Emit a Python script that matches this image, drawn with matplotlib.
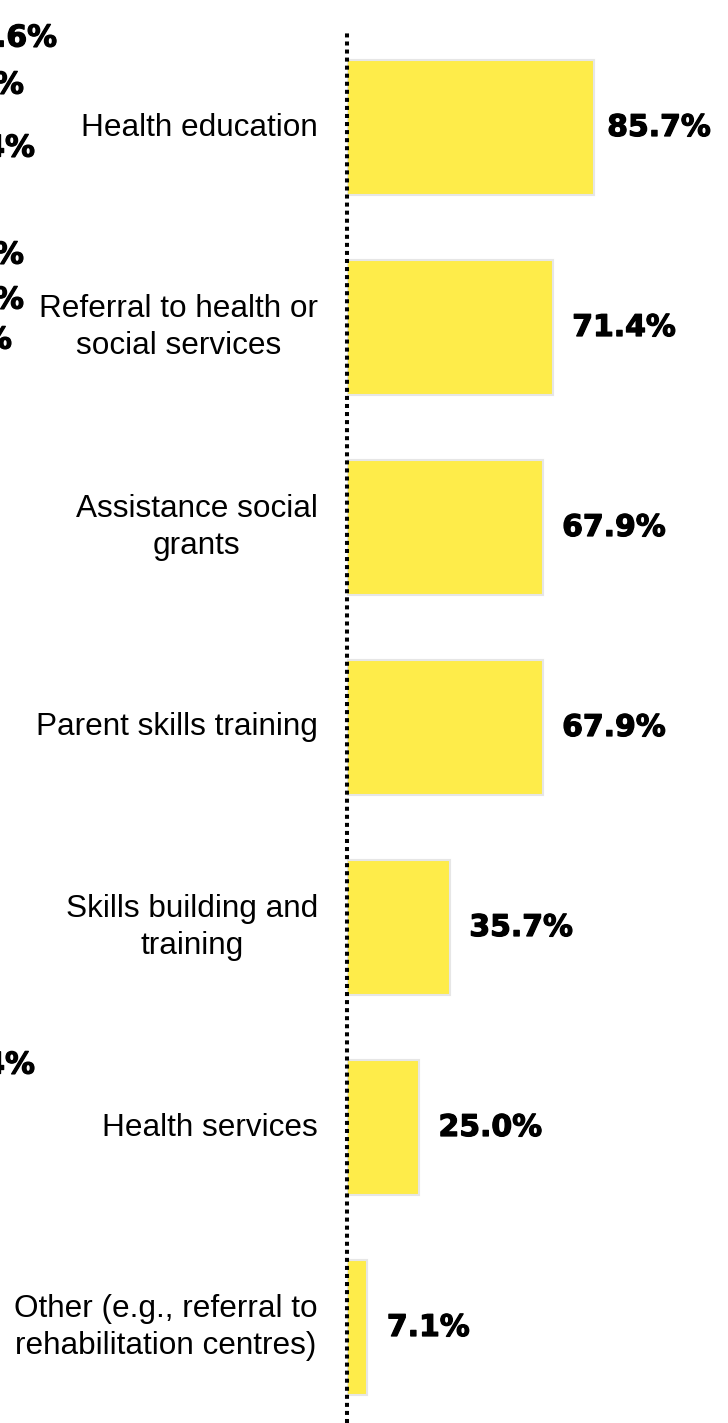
import matplotlib.pyplot as plt
import matplotlib.patheffects as pe
import numpy as np

# services offered (share of respondents, %)
services = ['Health education', 'Referral to health or\nsocial services', 'Assistance social\ngrants',
            'Parent skills training', 'Skills building and\ntraining', 'Health services',
            'Other (e.g., referral to\nrehabilitation centres)']
shares = [85.7, 71.4, 67.9, 67.9, 35.7, 25.0, 7.1]

# cut-off value labels of the neighbouring panel on the left
cut_labels = ['.6%', '%', '4%', '%', '%', '%', '4%']

W, H = 728, 1423
fig = plt.figure(figsize=(W / 100, H / 100), dpi=100)

# axes: x=0 sits at pixel 347, 85.7 at pixel 594
x0 = 347
k = (594 - 347) / 85.7
ax = fig.add_axes([x0 / W, 0, 1 - x0 / W, 1])
ax.set_xlim(0, (W - x0) / k)
ax.set_ylim((H - 127.5) / 200, -127.5 / 200)
ax.axis('off')

y = np.arange(len(services))
ax.barh(y, shares, height=0.675, color='#FEEC4A', edgecolor='#E6E6E6', linewidth=1.5)

ax.axvline(0, ymin=0, ymax=1 - 30 / H, color='black', linewidth=2.9,
           linestyle=(0, (1, 1)), dash_capstyle='butt', zorder=5, clip_on=False)

heavy = [pe.withStroke(linewidth=0.9, foreground='black')]

for i, (name, v) in enumerate(zip(services, shares)):
    ax.annotate(name, (0, i), xytext=(-21, 0), textcoords='offset points',
                ha='right', va='center', multialignment='center',
                fontsize=22.7, family='Liberation Sans', linespacing=1.33)
    gap = 9.5 if v > 80 else 14
    ax.annotate(f'{v:.1f}%', (v, i), xytext=(gap, 0), textcoords='offset points',
                ha='left', va='center', fontsize=21.5, fontweight='bold',
                family='DejaVu Sans', path_effects=heavy)

# fragments at the left edge (right end x, centre y, in pixels)
cut_pos = [(57, 38), (24, 85), (35, 148), (24, 255), (24, 300), (12, 340), (35, 1065)]
for s, (px, py) in zip(cut_labels, cut_pos):
    fig.text(px / W, 1 - py / H, s, ha='right', va='center', fontsize=21.5,
             fontweight='bold', family='DejaVu Sans', path_effects=heavy)

fig.savefig('out.png', dpi=100)
